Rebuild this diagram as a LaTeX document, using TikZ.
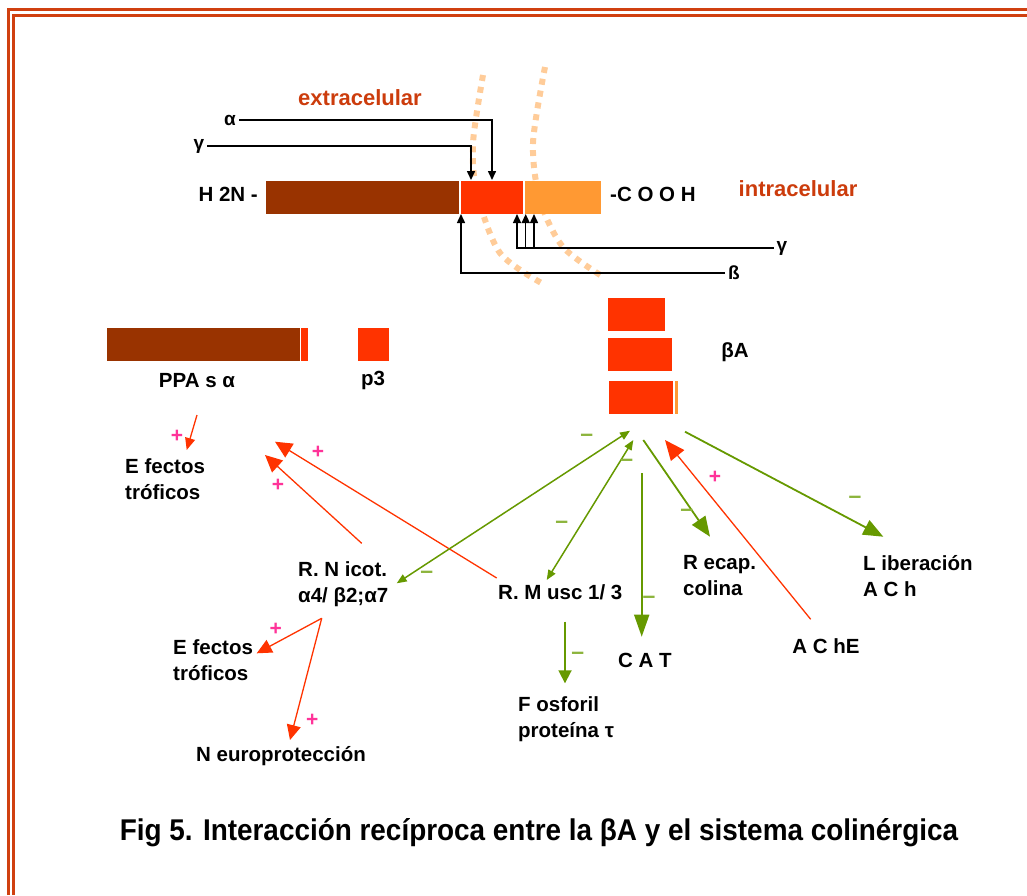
\documentclass[tikz,border=0pt]{standalone}
\usepackage{fontspec}
\setmainfont{Liberation Sans}
\usepackage{tikz}
\usetikzlibrary{arrows.meta}
\usepackage{xcolor}
\definecolor{borde}{RGB}{208,64,16}
\definecolor{marron}{RGB}{153,51,0}
\definecolor{rojo}{RGB}{255,51,0}
\definecolor{naranja}{RGB}{255,153,51}
\definecolor{melocoton}{RGB}{255,204,153}
\definecolor{verde}{RGB}{102,153,0}
\definecolor{verdeclaro}{RGB}{140,180,60}
\definecolor{rosa}{RGB}{255,51,153}
\definecolor{ladrillo}{RGB}{204,60,12}
\tikzstyle{lbl} = [inner sep=0pt, align=left, font=\bfseries\fontsize{20.5}{26}\selectfont]
\tikzstyle{griego} = [inner sep=3pt, font=\bfseries\fontsize{19}{19}\selectfont]
\tikzstyle{zona} = [inner sep=0pt, text=ladrillo, font=\bfseries\fontsize{22}{22}\selectfont]
\tikzstyle{barra} = [inner sep=0pt, anchor=north west, draw=none]
\tikzstyle{corte} = [line width=1.5pt, -{Triangle[length=9pt,width=8pt]}]
\tikzstyle{rojoarrow} = [draw=rojo, line width=1.3pt, -{Triangle[length=15pt,width=14pt]}]
\tikzstyle{verdearrow} = [draw=verde, line width=1.8pt, -{Triangle[length=20pt,width=16pt]}]
\tikzstyle{verdedoble} = [draw=verde, line width=1.5pt, {Triangle[length=10pt,width=8pt]}-{Triangle[length=10pt,width=8pt]}]
\tikzstyle{mas} = [inner sep=0pt, text=rosa, font=\bfseries\fontsize{21}{21}\selectfont]
\tikzstyle{menos} = [inner sep=0pt, text=verdeclaro, font=\bfseries\fontsize{23}{23}\selectfont]
\tikzstyle{membrana} = [melocoton, line width=6pt, dash pattern=on 6pt off 6pt]

\begin{document}
\begin{tikzpicture}[x=1pt, y=-1pt]
  \useasboundingbox (0,0) rectangle (1027,895);
  % double frame
  \draw[borde, line width=3pt] (8,895) -- (8,9.7) -- (1027,9.7);
  \draw[borde, line width=2.7pt] (13.7,895) -- (13.7,15.3) -- (1027,15.3);

  % membrane
  \draw[membrana] plot[smooth] coordinates {(483,75) (473,143) (477,193) (500,253) (545,285)};
  \draw[membrana] plot[smooth] coordinates {(545,67) (533,143) (540,200) (563,247) (605,278)};

  % APP chain
  \node[barra, fill=marron, minimum width=193pt, minimum height=33pt] (nterm) at (266,181) {};
  \node[barra, fill=rojo, minimum width=62pt, minimum height=33pt] (abeta) at (461,181) {};
  \node[barra, fill=naranja, minimum width=76pt, minimum height=33pt] (cterm) at (525,181) {};
  \node[lbl, anchor=east] (h2n) at (258,194) {H 2N -};
  \node[lbl, anchor=west] (cooh) at (610,194) {-C O O H};
  \node[zona] (extra) at (360,98) {extracelular};
  \node[zona] (intra) at (798,189) {intracelular};

  % secretases
  \node[griego] (alfa) at (230,120) {α};
  \node[griego] (gamma1) at (199,146) {γ};
  \node[griego] (gamma2) at (782,248) {γ};
  \node[griego] (beta) at (734,273) {ß};
  \coordinate (alfacut) at (492,180);
  \coordinate (gamma1cut) at (471,180);
  \coordinate (betacut) at (461,214);
  \coordinate (gcutA) at (517,214);
  \coordinate (gcutB) at (525.7,214);
  \coordinate (gcutC) at (534,214);
  \draw[corte] (alfa.east) -| (alfacut);
  \draw[corte] (gamma1.east) -| (gamma1cut);
  \draw[corte] (beta.west) -| (betacut);
  \draw[corte] (gamma2.west) -| (gcutA);
  \draw[corte] (gcutB |- gamma2) -- (gcutB);
  \draw[corte] (gcutC |- gamma2) -- (gcutC);

  % fragments
  \node[barra, fill=marron, minimum width=193pt, minimum height=33pt] (ppabar) at (107,328) {};
  \node[barra, fill=rojo, minimum width=7pt, minimum height=33pt] (ppatip) at (301,328) {};
  \node[barra, fill=rojo, minimum width=31pt, minimum height=33pt] (p3bar) at (358,328) {};
  \node[barra, fill=rojo, minimum width=57pt, minimum height=33pt] (ab1) at (608,298) {};
  \node[barra, fill=rojo, minimum width=64pt, minimum height=33pt] (ab2) at (608,338) {};
  \node[barra, fill=rojo, minimum width=64pt, minimum height=33pt] (ab3) at (609,381) {};
  \node[barra, fill=naranja, minimum width=3pt, minimum height=33pt] (ab3c) at (675,381) {};
  \node[lbl] (ppas) at (197,381) {PPA s α};
  \node[lbl] (p3) at (373,380) {p3};
  \node[lbl] (ba) at (735,352) {βA};

  % targets
  \node[lbl, anchor=west] (efectos1) at (125,479) {E fectos\\tróficos};
  \node[lbl, anchor=west] (nicot) at (298,584) {R. N icot.\\α4/ β2;α7};
  \node[lbl, anchor=west] (musc) at (498,592) {R. M usc 1/ 3};
  \node[lbl, anchor=west] (recap) at (683,576) {R ecap.\\colina};
  \node[lbl, anchor=west] (liber) at (863,576) {L iberación\\A C h};
  \node[lbl] (ache) at (826,646) {A C hE};
  \node[lbl] (cat) at (645,660) {C A T};
  \node[lbl, anchor=west] (fosfo) at (518,719) {F osforil\\proteína τ};
  \node[lbl, anchor=west] (efectos2) at (173,660) {E fectos\\tróficos};
  \node[lbl] (neuro) at (281,756) {N europrotección};

  % arrow end points
  \coordinate (ppaout) at (197,415);
  \coordinate (efin1) at (186.7,450);
  \coordinate (efin2) at (265,455);
  \coordinate (efin3) at (275,441.7);
  \coordinate (nicotout) at (361.7,543.3);
  \coordinate (muscout) at (496.7,578);
  \coordinate (nicotdown) at (321.7,618.3);
  \coordinate (efin4) at (256.7,653.3);
  \coordinate (neuroin) at (290,740);
  \coordinate (acheout) at (810.7,619.3);
  \coordinate (abin) at (665,440);
  \coordinate (hubA) at (630,430.7);
  \coordinate (hubB) at (633.3,440);
  \coordinate (hubC) at (643.3,440);
  \coordinate (hubD) at (685,431.7);
  \coordinate (hubE) at (641.7,473.3);
  \coordinate (nicotin) at (396.7,583.3);
  \coordinate (muscin) at (546.7,580);
  \coordinate (catin) at (641.7,636.7);
  \coordinate (recapin) at (710,536.7);
  \coordinate (liberin) at (883.3,536.7);
  \coordinate (muscdown) at (565,621.7);
  \coordinate (fosfoin) at (565,683.3);

  % activation
  \draw[rojoarrow, -{Triangle[length=12pt,width=10pt]}] (ppaout) -- (efin1);
  \draw[rojoarrow, -{Triangle[length=17pt,width=16pt]}] (nicotout) -- (efin2);
  \draw[rojoarrow, -{Triangle[length=17pt,width=16pt]}] (muscout) -- (efin3);
  \draw[rojoarrow] (nicotdown) -- (efin4);
  \draw[rojoarrow] (nicotdown) -- (neuroin);
  \draw[rojoarrow, -{Triangle[length=20pt,width=17pt]}] (acheout) -- (abin);

  % inhibition
  \draw[verdedoble] (hubA) -- (nicotin);
  \draw[verdedoble] (hubB) -- (muscin);
  \draw[verdearrow, -{Triangle[length=22pt,width=15pt]}] (hubE) -- (catin);
  \draw[verdearrow] (hubC) -- (recapin);
  \draw[verdearrow] (hubD) -- (liberin);
  \draw[verdearrow, -{Triangle[length=13pt,width=13pt]}] (muscdown) -- (fosfoin);

  % signs
  \node[mas] (mas1) at (177,436) {+};
  \node[mas] (mas2) at (318,452) {+};
  \node[mas] (mas3) at (278,485) {+};
  \node[mas] (mas4) at (715,477.3) {+};
  \node[mas] (mas5) at (275.7,629.3) {+};
  \node[mas] (mas6) at (312.3,720) {+};
  \node[menos] (menos1) at (586.7,438) {–};
  \node[menos] (menos2) at (626.7,462.7) {–};
  \node[menos] (menos3) at (561.7,525) {–};
  \node[menos] (menos4) at (426.7,575) {–};
  \node[menos] (menos5) at (649,600) {–};
  \node[menos] (menos6) at (686.7,512.7) {–};
  \node[menos] (menos7) at (855,500) {–};
  \node[menos] (menos8) at (577.7,656) {–};

  % caption
  \node[inner sep=0pt, font=\bfseries\fontsize{30}{30}\selectfont] (titulo) at (539,833)
    {\scalebox{0.93}[1]{Fig 5. Interacción recíproca entre la βA y el sistema colinérgica}};
\end{tikzpicture}
\end{document}
